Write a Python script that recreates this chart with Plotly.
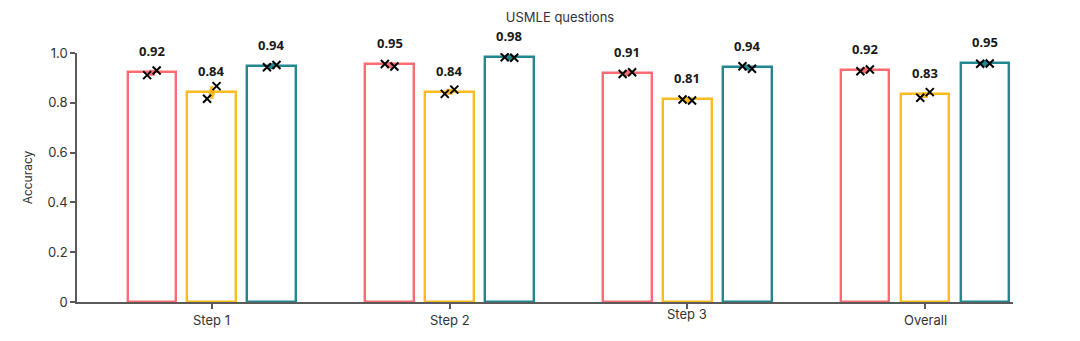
import plotly.graph_objects as go

categories = ["Step 1", "Step 2", "Step 3", "Overall"]
series_names = ["Model A", "Model B", "Model C"]
colors = ["#FF6B72", "#FDBA21", "#23878F"]

# bar heights (mean accuracy)
heights = {
    "Model A": [0.922, 0.954, 0.919, 0.930],
    "Model B": [0.843, 0.845, 0.815, 0.835],
    "Model C": [0.946, 0.982, 0.945, 0.959],
}
# printed labels
labels = {
    "Model A": ["0.92", "0.95", "0.91", "0.92"],
    "Model B": ["0.84", "0.84", "0.81", "0.83"],
    "Model C": ["0.94", "0.98", "0.94", "0.95"],
}
# individual runs (two per bar)
run1 = {
    "Model A": [0.911, 0.956, 0.916, 0.927],
    "Model B": [0.816, 0.836, 0.813, 0.820],
    "Model C": [0.943, 0.983, 0.947, 0.957],
}
run2 = {
    "Model A": [0.930, 0.946, 0.923, 0.934],
    "Model B": [0.867, 0.853, 0.809, 0.843],
    "Model C": [0.952, 0.981, 0.937, 0.958],
}
y_tickvals = [0, 0.2, 0.4, 0.6, 0.8, 1.0]
y_ticktext = ["0", "0.2", "0.4", "0.6", "0.8", "1.0"]

offsets = [-0.252, 0.0, 0.252]
bar_width = 0.205
run_dx = 0.02

fig = go.Figure()
idx = list(range(len(categories)))
for s, name in enumerate(series_names):
    xs = [i + offsets[s] for i in idx]
    fig.add_trace(go.Bar(
        x=xs, y=heights[name], width=bar_width, name=name,
        marker=dict(color="white", line=dict(color=colors[s], width=2.4)),
        showlegend=False,
    ))
for s, name in enumerate(series_names):
    xs = [i + offsets[s] for i in idx]
    mids = [(a + b) / 2 for a, b in zip(run1[name], run2[name])]
    errs = [abs(a - b) / 2 for a, b in zip(run1[name], run2[name])]
    fig.add_trace(go.Scatter(
        x=xs, y=mids, mode="markers",
        marker=dict(color=colors[s], size=6, symbol="square"),
        error_y=dict(type="data", array=errs, visible=True, color=colors[s], thickness=3.5, width=0),
        showlegend=False, hoverinfo="skip",
    ))
    fig.add_trace(go.Scatter(
        x=[x - run_dx for x in xs] + [x + run_dx for x in xs],
        y=run1[name] + run2[name], mode="markers",
        marker=dict(symbol="x-thin", size=8, line=dict(color="black", width=2)),
        showlegend=False, hoverinfo="skip",
    ))
    for i in idx:
        fig.add_annotation(
            x=xs[i], y=heights[name][i], xref="x", yref="y",
            text=labels[name][i], showarrow=False, yshift=21, yanchor="middle",
            font=dict(family="Noto Sans", size=13, color="#1a1a1a", weight="bold"),
        )

for i, c in enumerate(categories):
    fig.add_annotation(
        x=i, y=0, xref="x", yref="y", text=c, showarrow=False,
        yanchor="middle", yshift=-18 + (6 if c == "Step 3" else 0),
        font=dict(family="Inter", size=13, color="#333333"),
    )

fig.update_layout(
    width=1080, height=341,
    margin=dict(l=77, r=67, t=53, b=39),
    paper_bgcolor="white", plot_bgcolor="white",
    bargap=0,
    title=dict(text="USMLE questions", x=560 / 1080, xanchor="center", y=1 - 17 / 341, yanchor="middle",
               font=dict(family="Inter", size=13, color="#333333")),
    xaxis=dict(range=[-0.567, 3.37], showgrid=False, zeroline=False,
               showline=True, linecolor="#5a5a5a", linewidth=1.6,
               tickvals=idx, ticktext=["" for _ in idx], ticks="outside", ticklen=5,
               tickcolor="#5a5a5a", tickwidth=1.5),
    yaxis=dict(range=[0, 1.0], showgrid=False, zeroline=False,
               showline=True, linecolor="#5a5a5a", linewidth=1.6,
               tickvals=y_tickvals, ticktext=y_ticktext, ticks="outside", ticklen=5,
               tickcolor="#5a5a5a", tickwidth=1.5,
               tickfont=dict(family="Inter", size=13, color="#333333"),
               title=dict(text="Accuracy", font=dict(family="Inter", size=12, color="#333333"), standoff=12)),
)

fig.write_html("out.html")
